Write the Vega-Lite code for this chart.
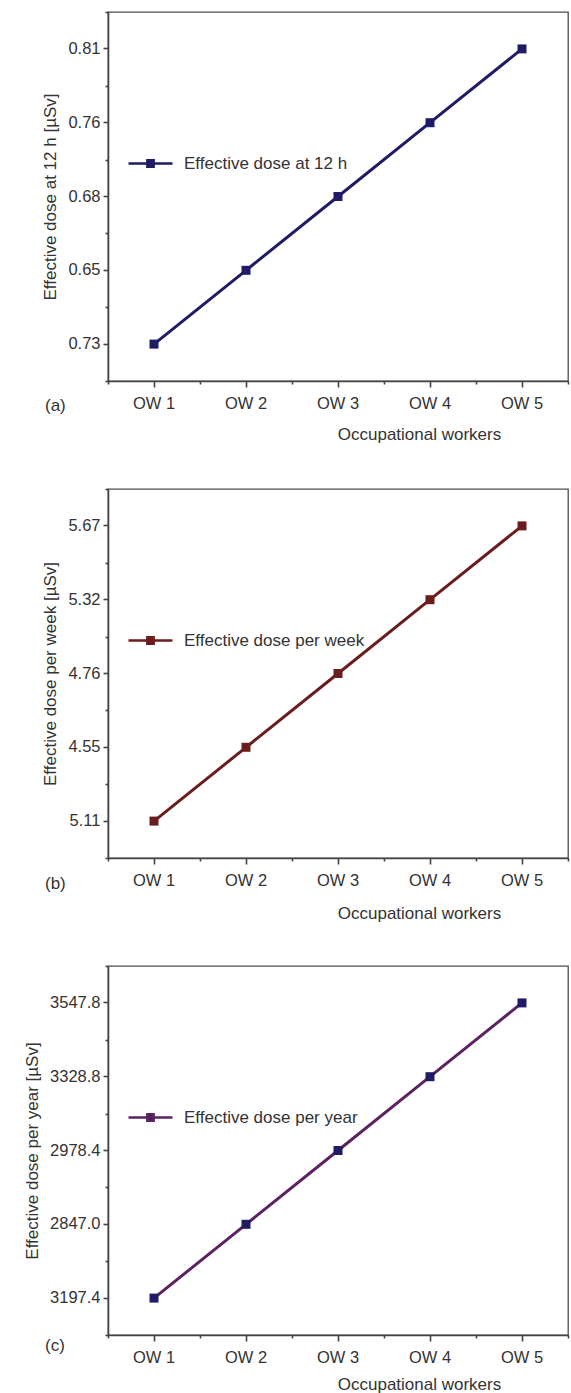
{
  "$schema": "https://vega.github.io/schema/vega-lite/v6.json",
  "padding": {"left": 22, "top": 10, "right": 0, "bottom": 0},
  "background": "white",
  "datasets": {
    "a": [
      {"worker": "OW 1", "dose": "0.73", "series": "Effective dose at 12 h"},
      {"worker": "OW 2", "dose": "0.65", "series": "Effective dose at 12 h"},
      {"worker": "OW 3", "dose": "0.68", "series": "Effective dose at 12 h"},
      {"worker": "OW 4", "dose": "0.76", "series": "Effective dose at 12 h"},
      {"worker": "OW 5", "dose": "0.81", "series": "Effective dose at 12 h"}
    ],
    "b": [
      {"worker": "OW 1", "dose": "5.11", "series": "Effective dose per week"},
      {"worker": "OW 2", "dose": "4.55", "series": "Effective dose per week"},
      {"worker": "OW 3", "dose": "4.76", "series": "Effective dose per week"},
      {"worker": "OW 4", "dose": "5.32", "series": "Effective dose per week"},
      {"worker": "OW 5", "dose": "5.67", "series": "Effective dose per week"}
    ],
    "c": [
      {"worker": "OW 1", "dose": "3197.4", "series": "Effective dose per year"},
      {"worker": "OW 2", "dose": "2847.0", "series": "Effective dose per year"},
      {"worker": "OW 3", "dose": "2978.4", "series": "Effective dose per year"},
      {"worker": "OW 4", "dose": "3328.8", "series": "Effective dose per year"},
      {"worker": "OW 5", "dose": "3547.8", "series": "Effective dose per year"}
    ]
  },
  "bounds": "flush",
  "spacing": 108,
  "resolve": {"scale": {"color": "independent"}, "legend": {"color": "independent"}},
  "vconcat": [
    {
      "width": 460,
      "height": 369,
      "title": {"text": "(a)", "orient": "bottom", "anchor": "start", "frame": "group", "dx": -63, "dy": -48},
      "data": {"name": "a"},
      "layer": [
        {
          "mark": {"type": "line", "strokeWidth": 3},
          "encoding": {
            "x": {"field": "worker", "type": "ordinal", "scale": {"type": "band", "paddingInner": 0, "paddingOuter": 0},
                  "axis": {"orient": "bottom", "tickSize": 6, "labelPadding": 8, "labelAngle": 0, "title": "Occupational workers", "titleX": 311, "titleY": 53, "titleBaseline": "middle", "titleAlign": "center"}},
            "y": {"field": "dose", "type": "ordinal", "sort": ["0.81", "0.76", "0.68", "0.65", "0.73"], "scale": {"type": "band", "paddingInner": 0, "paddingOuter": 0},
                  "axis": {"orient": "left", "tickSize": 5, "labelPadding": 3, "title": "Effective dose at 12 h [µSv]", "titlePadding": 8}},
            "color": {"field": "series", "type": "nominal", "scale": {"range": ["#1f1b66"]},
                      "legend": {"orient": "none", "legendX": 19, "legendY": 128, "title": null, "symbolType": "M-1,0H1M-0.14,-0.14H0.14V0.14H-0.14Z", "symbolSize": 1936, "symbolStrokeWidth": 2.6, "symbolFillColor": "#1f1b66", "labelFontSize": 17, "labelColor": "#333333", "labelOffset": 10, "labelLimit": 400, "padding": 0}}
          }
        },
        {
          "mark": {"type": "point", "shape": "square", "filled": true, "size": 81, "opacity": 1, "color": "#1f1b66"},
          "encoding": {
            "x": {"field": "worker", "type": "ordinal", "scale": {"type": "band", "paddingInner": 0, "paddingOuter": 0},
                  "axis": {"orient": "bottom", "labels": false, "domain": false, "tickBand": "extent", "tickSize": 3, "title": null}},
            "y": {"field": "dose", "type": "ordinal", "sort": ["0.81", "0.76", "0.68", "0.65", "0.73"], "scale": {"type": "band", "paddingInner": 0, "paddingOuter": 0},
                  "axis": {"orient": "left", "labels": false, "domain": false, "tickBand": "extent", "tickSize": 3, "title": null}}
          }
        }
      ],
      "resolve": {"axis": {"x": "independent", "y": "independent"}}
    },
    {
      "width": 460,
      "height": 369,
      "title": {"text": "(b)", "orient": "bottom", "anchor": "start", "frame": "group", "dx": -63, "dy": -49},
      "data": {"name": "b"},
      "layer": [
        {
          "mark": {"type": "line", "strokeWidth": 3},
          "encoding": {
            "x": {"field": "worker", "type": "ordinal", "scale": {"type": "band", "paddingInner": 0, "paddingOuter": 0},
                  "axis": {"orient": "bottom", "tickSize": 6, "labelPadding": 8, "labelAngle": 0, "title": "Occupational workers", "titleX": 311, "titleY": 55, "titleBaseline": "middle", "titleAlign": "center"}},
            "y": {"field": "dose", "type": "ordinal", "sort": ["5.67", "5.32", "4.76", "4.55", "5.11"], "scale": {"type": "band", "paddingInner": 0, "paddingOuter": 0},
                  "axis": {"orient": "left", "tickSize": 5, "labelPadding": 3, "title": "Effective dose per week [µSv]", "titlePadding": 8}},
            "color": {"field": "series", "type": "nominal", "scale": {"range": ["#6b1c1c"]},
                      "legend": {"orient": "none", "legendX": 19, "legendY": 128, "title": null, "symbolType": "M-1,0H1M-0.14,-0.14H0.14V0.14H-0.14Z", "symbolSize": 1936, "symbolStrokeWidth": 2.6, "symbolFillColor": "#6b1c1c", "labelFontSize": 17, "labelColor": "#333333", "labelOffset": 10, "labelLimit": 400, "padding": 0}}
          }
        },
        {
          "mark": {"type": "point", "shape": "square", "filled": true, "size": 81, "opacity": 1, "color": "#6b1c1c"},
          "encoding": {
            "x": {"field": "worker", "type": "ordinal", "scale": {"type": "band", "paddingInner": 0, "paddingOuter": 0},
                  "axis": {"orient": "bottom", "labels": false, "domain": false, "tickBand": "extent", "tickSize": 3, "title": null}},
            "y": {"field": "dose", "type": "ordinal", "sort": ["5.67", "5.32", "4.76", "4.55", "5.11"], "scale": {"type": "band", "paddingInner": 0, "paddingOuter": 0},
                  "axis": {"orient": "left", "labels": false, "domain": false, "tickBand": "extent", "tickSize": 3, "title": null}}
          }
        }
      ],
      "resolve": {"axis": {"x": "independent", "y": "independent"}}
    },
    {
      "width": 460,
      "height": 369,
      "title": {"text": "(c)", "orient": "bottom", "anchor": "start", "frame": "group", "dx": -63, "dy": -58},
      "data": {"name": "c"},
      "layer": [
        {
          "mark": {"type": "line", "strokeWidth": 3},
          "encoding": {
            "x": {"field": "worker", "type": "ordinal", "scale": {"type": "band", "paddingInner": 0, "paddingOuter": 0},
                  "axis": {"orient": "bottom", "tickSize": 6, "labelPadding": 8, "labelAngle": 0, "title": "Occupational workers", "titleX": 311, "titleY": 49, "titleBaseline": "middle", "titleAlign": "center"}},
            "y": {"field": "dose", "type": "ordinal", "sort": ["3547.8", "3328.8", "2978.4", "2847.0", "3197.4"], "scale": {"type": "band", "paddingInner": 0, "paddingOuter": 0},
                  "axis": {"orient": "left", "tickSize": 5, "labelPadding": 3, "title": "Effective dose per year [µSv]", "titlePadding": 8}},
            "color": {"field": "series", "type": "nominal", "scale": {"range": ["#5c2262"]},
                      "legend": {"orient": "none", "legendX": 19, "legendY": 128, "title": null, "symbolType": "M-1,0H1M-0.14,-0.14H0.14V0.14H-0.14Z", "symbolSize": 1936, "symbolStrokeWidth": 2.6, "symbolFillColor": "#1f1b66", "labelFontSize": 17, "labelColor": "#333333", "labelOffset": 10, "labelLimit": 400, "padding": 0}}
          }
        },
        {
          "mark": {"type": "point", "shape": "square", "filled": true, "size": 81, "opacity": 1, "color": "#1f1b66"},
          "encoding": {
            "x": {"field": "worker", "type": "ordinal", "scale": {"type": "band", "paddingInner": 0, "paddingOuter": 0},
                  "axis": {"orient": "bottom", "labels": false, "domain": false, "tickBand": "extent", "tickSize": 3, "title": null}},
            "y": {"field": "dose", "type": "ordinal", "sort": ["3547.8", "3328.8", "2978.4", "2847.0", "3197.4"], "scale": {"type": "band", "paddingInner": 0, "paddingOuter": 0},
                  "axis": {"orient": "left", "labels": false, "domain": false, "tickBand": "extent", "tickSize": 3, "title": null}}
          }
        }
      ],
      "resolve": {"axis": {"x": "independent", "y": "independent"}}
    }
  ],
  "config": {
    "font": "Liberation Sans",
    "view": {"stroke": "#4d4d4d", "strokeWidth": 1.3},
    "axis": {
      "domainColor": "#444444", "domainWidth": 1.6, "tickColor": "#444444", "tickWidth": 1.6,
      "labelColor": "#333333", "titleColor": "#333333", "labelFont": "Liberation Sans", "titleFont": "Liberation Sans",
      "labelFontSize": 16.5, "titleFontSize": 17, "titleFontWeight": "normal", "grid": false
    },
    "legend": {"labelFont": "Liberation Sans"},
    "title": {"fontSize": 17, "fontWeight": "normal", "color": "#333333", "font": "Liberation Sans", "offset": 4}
  }
}
